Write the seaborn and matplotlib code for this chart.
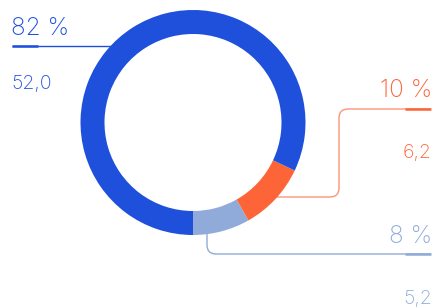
import matplotlib
matplotlib.use("Agg")
import matplotlib.pyplot as plt
from matplotlib.path import Path
from matplotlib.patches import PathPatch
import seaborn as sns

# data
labels = ["Другое", "Оранж", "Основное"]
values = [5.2, 6.2, 52.0]
pct_labels = ["8 %", "10 %", "82 %"]
value_labels = ["5,2", "6,2", "52,0"]
colors = ["#90abd9", "#fd6539", "#1e50dc"]
line_colors = ["#90abd9", "#fd9477", "#1e50dc"]

W, H = 435, 307
sns.set_theme(style="white")
plt.rcParams["font.family"] = ["Inter", "DejaVu Sans"]

fig = plt.figure(figsize=(W / 100, H / 100), dpi=100)
ax = fig.add_axes([0, 0, 1, 1])

# donut, starting at the bottom and going counterclockwise
ax.pie(values, colors=colors, startangle=-90, counterclock=True,
       center=(193, H - 122.5), radius=112.5, frame=True,
       wedgeprops=dict(width=24, edgecolor="none", zorder=3))
ax.set_xlim(0, W)
ax.set_ylim(0, H)
ax.set_aspect("equal")
ax.axis("off")


def rounded(points, r=7):
    # polyline with rounded corners, points in pixel coords (y down)
    pts = [(x, H - y) for x, y in points]
    verts = [pts[0]]
    codes = [Path.MOVETO]
    for i in range(1, len(pts) - 1):
        px, py = pts[i - 1]
        cx, cy = pts[i]
        nx, ny = pts[i + 1]
        d1 = ((cx - px) ** 2 + (cy - py) ** 2) ** 0.5
        d2 = ((nx - cx) ** 2 + (ny - cy) ** 2) ** 0.5
        a = (cx - (cx - px) / d1 * r, cy - (cy - py) / d1 * r)
        b = (cx + (nx - cx) / d2 * r, cy + (ny - cy) / d2 * r)
        verts += [a, (cx, cy), b]
        codes += [Path.LINETO, Path.CURVE3, Path.CURVE3]
    verts.append(pts[-1])
    codes.append(Path.LINETO)
    return Path(verts, codes)


leaders = [
    [(207, 234), (207, 254), (431, 254)],
    [(270, 197), (339, 197), (339, 109), (431, 109)],
    [(12, 46), (118, 46)],
]
thick = [(405, 431, 254), (405, 431, 109), (12, 38, 46)]
for path_pts, (x0, x1, y), lc, c in zip(leaders, thick, line_colors, colors):
    ax.add_patch(PathPatch(rounded(path_pts, 9), fill=False, edgecolor=lc,
                           lw=1.0, zorder=1, capstyle="butt"))
    ax.plot([x0, x1], [H - y, H - y], color=c, lw=1.8, zorder=2,
            solid_capstyle="butt")

# labels
big, small = 17.5, 14
kw = dict(fontweight="light", va="baseline")
ax.text(11, H - 35, pct_labels[2], color=colors[2], fontsize=big,
        ha="left", **kw)
ax.text(11, H - 89, value_labels[2], color=colors[2], fontsize=small,
        ha="left", **kw)
ax.text(432, H - 97, pct_labels[1], color=colors[1], fontsize=big,
        ha="right", **kw)
ax.text(432, H - 158, value_labels[1], color=colors[1], fontsize=small,
        ha="right", **kw)
ax.text(432, H - 243, pct_labels[0], color=colors[0], fontsize=big,
        ha="right", **kw)
ax.text(432, H - 304, value_labels[0], color=colors[0], fontsize=small,
        ha="right", **kw)

fig.savefig("out.png", dpi=100)
